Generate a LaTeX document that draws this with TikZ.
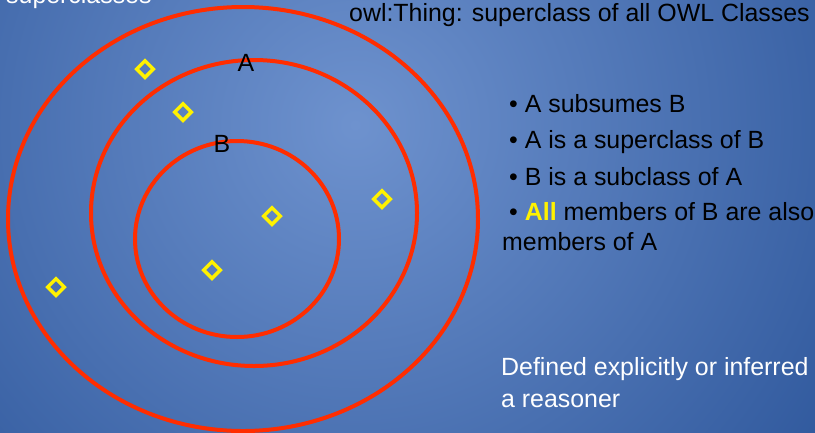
\documentclass[tikz,border=0pt]{standalone}
\usepackage{fontspec}
\setmainfont{Liberation Sans}
\usetikzlibrary{shapes.geometric}
\definecolor{bglight}{RGB}{110,146,206}
\definecolor{bgdark}{RGB}{34,76,146}
\definecolor{ringred}{RGB}{255,45,0}
\tikzset{
  ring/.style={draw=ringred, line width=4bp},
  member/.style={diamond, draw=yellow, line width=3.5bp, minimum size=18bp, inner sep=0pt},
  slide/.style={anchor=base west, font=\fontsize{25}{29}\selectfont, inner sep=0pt},
}

\begin{document}
\begin{tikzpicture}[x=1bp,y=-1bp]
  		\useasboundingbox (0,0) rectangle (815,432);
  		\clip (0,0) rectangle (815,432);
  		\shade[inner color=bglight, outer color=bgdark] (355,125) circle (700bp);
  		% owl:Thing, A and B
  		\draw[ring] (243,219) ellipse [x radius=235bp, y radius=212bp];
  		\draw[ring] (254,213) ellipse [x radius=163bp, y radius=153bp];
  		\draw[ring] (237,239) ellipse [x radius=102bp, y radius=98bp];
  		\node[member] (m1) at (145,69) {};
  		\node[member] (m2) at (183,112) {};
  		\node[member] (m3) at (272,216) {};
  		\node[member] (m4) at (212,270) {};
  		\node[member] (m5) at (382,199) {};
  		\node[member] (m6) at (56,287) {};
  		\node[slide, anchor=base] (A) at (246,71) {A};
  		\node[slide, anchor=base] (B) at (222,152) {B};
  		\node[slide, white] (sup) at (6,3) {superclasses};
  		\node[slide] (thing) at (349,21) {owl:Thing: superclass of all OWL Classes};
  		\node[slide] (b1) at (509,112) {• A subsumes B};
  		\node[slide] (b2) at (509,148) {• A is a superclass of B};
  		\node[slide] (b3) at (509,185) {• B is a subclass of A};
  		\node[slide] (b4) at (509,220) {• \textcolor{yellow}{\textbf{All}} members of B are also};
  		\node[slide] (b5) at (502,250) {members of A};
  		\node[slide, white] (def1) at (501,375) {Defined explicitly or inferred};
  		\node[slide, white] (def2) at (501,407) {a reasoner};
  	\end{tikzpicture}
\end{document}
